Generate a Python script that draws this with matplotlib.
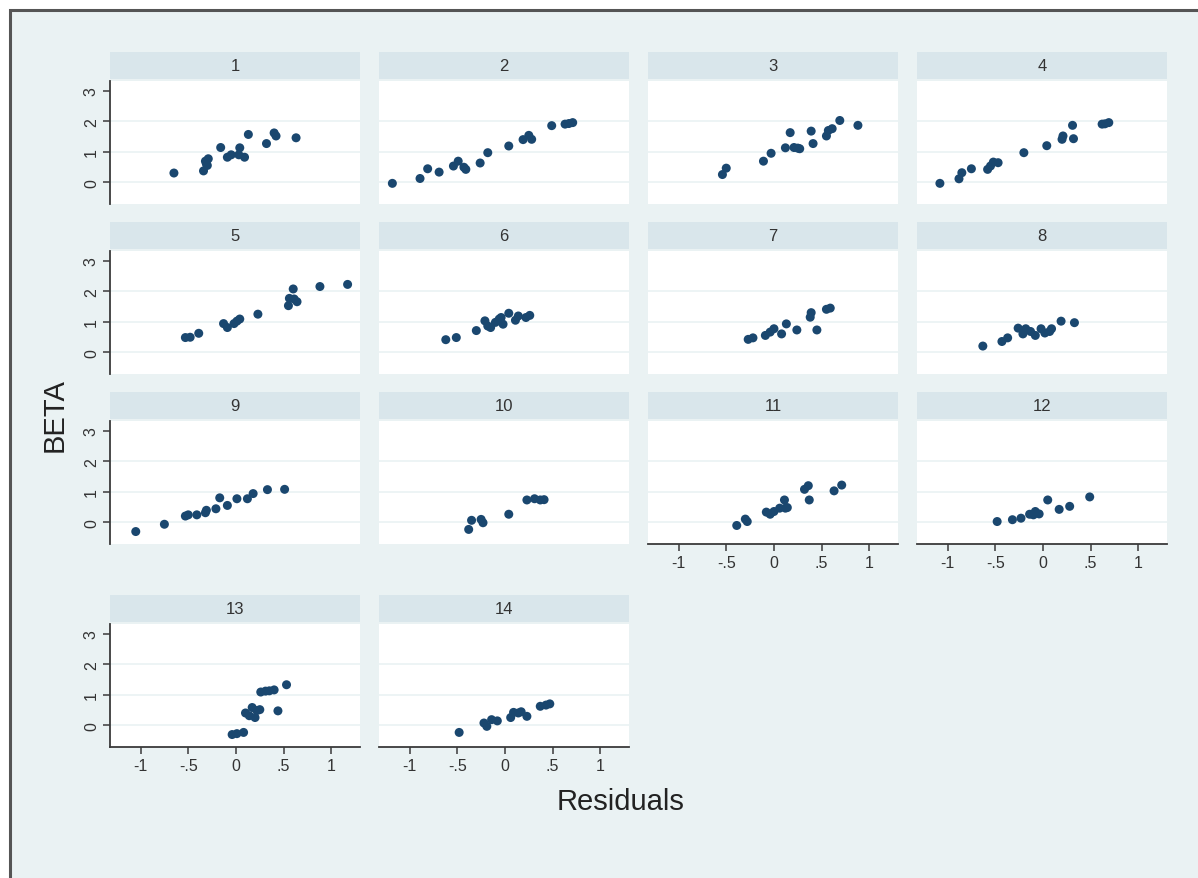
import matplotlib
matplotlib.use("Agg")
import matplotlib.pyplot as plt
from matplotlib.patches import Rectangle

# residual (x) / beta (y) pairs per panel
r1 = [-0.65, -0.34, -0.31, -0.32, -0.29, -0.30, -0.16, -0.09, -0.05, 0.03, 0.04, 0.09, 0.13, 0.32, 0.40, 0.42, 0.63]
b1 = [0.30, 0.37, 0.60, 0.69, 0.77, 0.55, 1.14, 0.82, 0.90, 0.90, 1.13, 0.82, 1.57, 1.27, 1.62, 1.52, 1.46]
r2 = [-1.18, -0.89, -0.81, -0.69, -0.54, -0.49, -0.43, -0.41, -0.26, -0.18, 0.04, 0.19, 0.25, 0.28, 0.49, 0.63, 0.67, 0.71]
b2 = [-0.04, 0.12, 0.44, 0.33, 0.53, 0.69, 0.49, 0.42, 0.63, 0.97, 1.19, 1.40, 1.54, 1.41, 1.86, 1.91, 1.93, 1.96]
r3 = [-0.54, -0.50, -0.11, -0.03, 0.12, 0.17, 0.21, 0.25, 0.27, 0.39, 0.41, 0.55, 0.57, 0.61, 0.69, 0.88]
b3 = [0.25, 0.46, 0.69, 0.95, 1.13, 1.63, 1.14, 1.12, 1.10, 1.68, 1.27, 1.52, 1.70, 1.76, 2.03, 1.87]
r4 = [-1.08, -0.88, -0.85, -0.75, -0.58, -0.55, -0.52, -0.47, -0.20, 0.04, 0.20, 0.21, 0.32, 0.31, 0.62, 0.65, 0.69]
b4 = [-0.04, 0.11, 0.31, 0.44, 0.42, 0.53, 0.66, 0.64, 0.97, 1.20, 1.41, 1.52, 1.43, 1.87, 1.91, 1.92, 1.96]
r5 = [-0.53, -0.48, -0.39, -0.13, -0.09, -0.02, 0.01, 0.04, 0.23, 0.55, 0.56, 0.60, 0.61, 0.64, 0.88, 1.17]
b5 = [0.48, 0.49, 0.62, 0.94, 0.81, 0.94, 1.02, 1.09, 1.25, 1.53, 1.77, 2.08, 1.75, 1.66, 2.16, 2.23]
r6 = [-0.62, -0.51, -0.30, -0.21, -0.18, -0.15, -0.10, -0.06, -0.04, -0.02, 0.04, 0.11, 0.14, 0.22, 0.26]
b6 = [0.41, 0.48, 0.71, 1.03, 0.86, 0.81, 0.98, 1.09, 1.14, 0.92, 1.28, 1.05, 1.19, 1.14, 1.21]
r7 = [-0.27, -0.22, -0.09, -0.04, 0.00, 0.08, 0.13, 0.24, 0.38, 0.39, 0.45, 0.55, 0.59]
b7 = [0.42, 0.47, 0.55, 0.66, 0.77, 0.60, 0.93, 0.73, 1.15, 1.30, 0.73, 1.41, 1.45]
r8 = [-0.63, -0.43, -0.37, -0.26, -0.21, -0.18, -0.13, -0.08, -0.02, 0.02, 0.07, 0.09, 0.19, 0.33]
b8 = [0.20, 0.35, 0.47, 0.79, 0.60, 0.77, 0.68, 0.55, 0.77, 0.63, 0.68, 0.77, 1.02, 0.97]
r9 = [-1.05, -0.75, -0.53, -0.50, -0.41, -0.32, -0.31, -0.21, -0.17, -0.09, 0.01, 0.12, 0.18, 0.33, 0.51]
b9 = [-0.31, -0.07, 0.20, 0.24, 0.24, 0.31, 0.39, 0.44, 0.80, 0.55, 0.77, 0.77, 0.94, 1.07, 1.08]
r10 = [-0.38, -0.35, -0.25, -0.23, 0.04, 0.23, 0.31, 0.37, 0.41]
b10 = [-0.24, 0.06, 0.09, -0.02, 0.26, 0.73, 0.77, 0.73, 0.74]
r11 = [-0.39, -0.30, -0.28, -0.08, -0.04, 0.00, 0.06, 0.11, 0.12, 0.14, 0.32, 0.36, 0.37, 0.63, 0.71]
b11 = [-0.11, 0.10, 0.02, 0.33, 0.26, 0.35, 0.46, 0.73, 0.46, 0.48, 1.08, 1.20, 0.73, 1.03, 1.22]
r12 = [-0.48, -0.32, -0.23, -0.14, -0.10, -0.08, -0.04, 0.05, 0.17, 0.28, 0.49]
b12 = [0.02, 0.08, 0.13, 0.26, 0.24, 0.35, 0.27, 0.73, 0.42, 0.52, 0.83]
r13 = [-0.04, 0.01, 0.08, 0.10, 0.14, 0.17, 0.20, 0.22, 0.25, 0.26, 0.31, 0.35, 0.40, 0.44, 0.53]
b13 = [-0.31, -0.28, -0.24, 0.40, 0.31, 0.58, 0.25, 0.48, 0.51, 1.09, 1.12, 1.13, 1.16, 0.47, 1.33]
r14 = [-0.48, -0.22, -0.19, -0.14, -0.08, 0.06, 0.09, 0.14, 0.17, 0.23, 0.37, 0.43, 0.47]
b14 = [-0.24, 0.07, -0.04, 0.18, 0.14, 0.25, 0.42, 0.40, 0.44, 0.29, 0.62, 0.66, 0.70]

panels = [(r1, b1), (r2, b2), (r3, b3), (r4, b4), (r5, b5), (r6, b6), (r7, b7),
          (r8, b8), (r9, b9), (r10, b10), (r11, b11), (r12, b12), (r13, b13), (r14, b14)]
labels = [str(i + 1) for i in range(len(panels))]
xticks = [-1, -0.5, 0, 0.5, 1]
xticklabels = ["-1", "-.5", "0", ".5", "1"]
yticks = [0, 1, 2, 3]

BG = "#EAF2F3"
STRIP = "#D9E6EB"
NAVY = "#1A476F"
AX = "#3a3a3a"
W, H = 1198, 879

plt.rcParams["font.family"] = ["Liberation Sans", "DejaVu Sans"]
fig = plt.figure(figsize=(W / 100, H / 100), dpi=100, facecolor="white")
# graph region with the dark frame on top/left
fig.add_artist(Rectangle((10 / W, -0.01), 1.02, (H - 11) / H + 0.01,
                         transform=fig.transFigure, facecolor=BG,
                         edgecolor="#555555", lw=2.2, zorder=-10))

LEFTS = [110, 379, 648, 917]
TOPS = [82, 252, 422, 625]
PW, PH = 250, 123

def px(l, t, w, h):
    return [l / W, 1 - (t + h) / H, w / W, h / H]

for i, (x, y) in enumerate(panels):
    row, col = divmod(i, 4)
    l, t = LEFTS[col], TOPS[row]
    ax = fig.add_axes(px(l, t, PW, PH), facecolor="white")
    for yg in [0, 1, 2]:
        ax.axhline(yg, color=BG, lw=1.2, zorder=1)
    ax.scatter(x, y, s=42, color=NAVY, edgecolors="none", zorder=3)
    ax.set_xlim(-1.32, 1.30)
    ax.set_ylim(-0.72, 3.33)
    for s in ax.spines.values():
        s.set_visible(False)
    bottom = i >= 10
    if col == 0:
        ax.spines["left"].set_visible(True)
        ax.spines["left"].set_color(AX)
        ax.spines["left"].set_linewidth(1.3)
        ax.set_yticks(yticks)
        ax.set_yticklabels([str(v) for v in yticks], rotation=90, va="center")
        ax.tick_params(axis="y", length=5, width=1.1, color=AX, labelsize=11.5,
                       labelcolor="#333333", pad=3)
    else:
        ax.set_yticks([])
    if bottom:
        ax.spines["bottom"].set_visible(True)
        ax.spines["bottom"].set_color(AX)
        ax.spines["bottom"].set_linewidth(1.3)
        ax.set_xticks(xticks)
        ax.set_xticklabels(xticklabels)
        ax.tick_params(axis="x", length=5, width=1.1, color=AX, labelsize=11.5,
                       labelcolor="#333333", pad=3)
    else:
        ax.set_xticks([])
    # subtitle strip
    hx = fig.add_axes(px(l, t - 29, PW, 27), facecolor=STRIP)
    hx.set_xticks([]); hx.set_yticks([])
    for s in hx.spines.values():
        s.set_visible(False)
    hx.text(0.5, 0.5, labels[i], ha="center", va="center", fontsize=12,
            color="#333333", transform=hx.transAxes)

fig.text(621 / W, 1 - 802 / H, "Residuals", ha="center", va="center",
         fontsize=21, color="#222222")
fig.text(55 / W, 1 - 415 / H, "BETA", ha="center", va="center", rotation=90,
         fontsize=21, color="#222222")

fig.savefig("out.png", dpi=100, facecolor="white")
